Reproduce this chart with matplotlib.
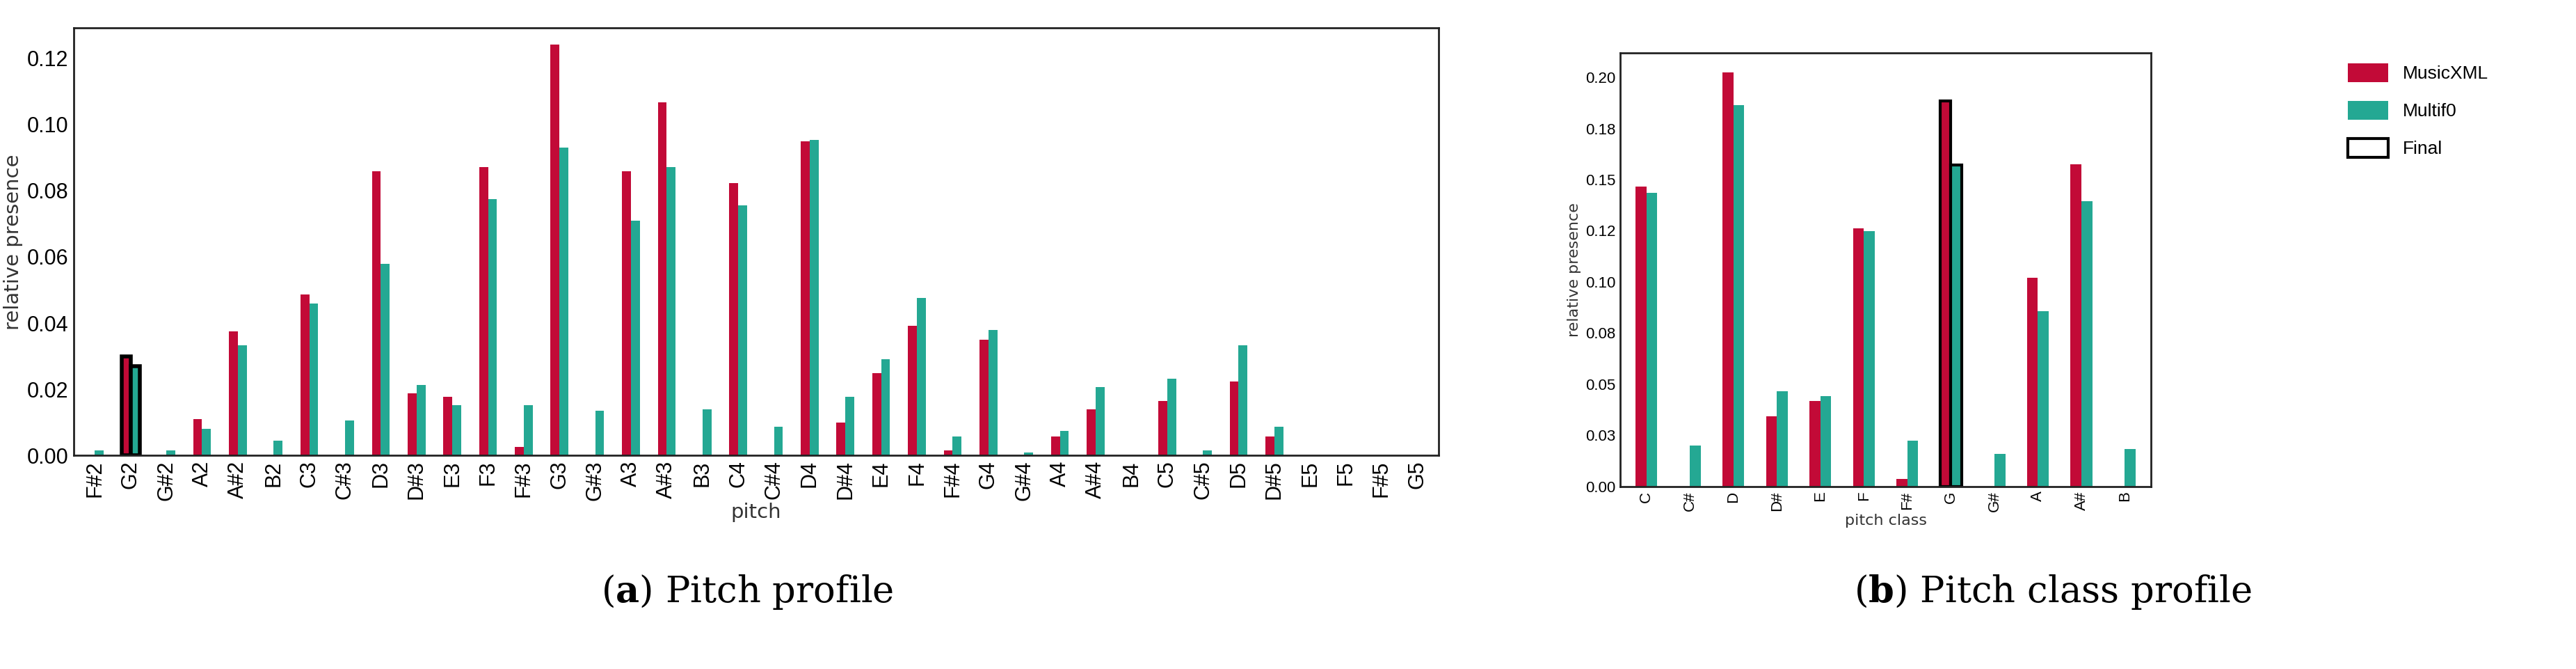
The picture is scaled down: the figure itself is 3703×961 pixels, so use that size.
import matplotlib
matplotlib.use("Agg")
import matplotlib.pyplot as plt
import numpy as np
from matplotlib.patches import Patch

pitches = ["F#2","G2","G#2","A2","A#2","B2","C3","C#3","D3","D#3","E3","F3","F#3","G3","G#3","A3","A#3","B3",
           "C4","C#4","D4","D#4","E4","F4","F#4","G4","G#4","A4","A#4","B4","C5","C#5","D5","D#5","E5","F5","F#5","G5"]
pitch_xml = [0,0.030,0,0.0111,0.0374,0,0.0487,0,0.0858,0.0188,0.0177,0.0870,0.0027,0.1241,0,0.0858,0.1067,0,
             0.0822,0,0.0948,0.0099,0.0249,0.0392,0.0015,0.0350,0,0.0057,0.0140,0,0.0165,0,0.0224,0.0057,0,0,0,0]
pitch_mf0 = [0.0015,0.027,0.0015,0.0081,0.0332,0.0045,0.0458,0.0105,0.0578,0.0213,0.0153,0.0774,0.0153,0.0930,0.0135,0.0708,0.0870,0.0140,
             0.0756,0.0087,0.0953,0.0177,0.0290,0.0476,0.0057,0.0380,0.0009,0.0074,0.0206,0,0.0231,0.0015,0.0332,0.0087,0,0,0,0]
pitch_final = "G2"

classes = ["C","C#","D","D#","E","F","F#","G","G#","A","A#","B"]
class_xml = [0.1466,0,0.2023,0.0342,0.0419,0.1262,0.0036,0.1886,0,0.1021,0.1575,0]
class_mf0 = [0.1434,0.0199,0.1865,0.0464,0.0443,0.1248,0.0223,0.1572,0.016,0.0855,0.1396,0.0184]
class_final = "G"

RED = "#C20A37"
TEAL = "#24A893"
tickfont = ["Liberation Sans Narrow", "Liberation Sans", "DejaVu Sans"]
plt.rcParams["mathtext.fontset"] = "dejavuserif"

fig = plt.figure(figsize=(37.03, 9.61), dpi=100)
ax1 = fig.add_axes([0.0285, 0.319, 0.530, 0.639])
ax2 = fig.add_axes([0.629, 0.273, 0.206, 0.648])

def draw(ax, cats, a, b, final, fs_tick, fs_lab, lw):
    x = np.arange(len(cats))
    w = 0.25
    for i, c in enumerate(cats):
        ec = "black" if c == final else "none"
        l = lw if c == final else 0
        ax.bar(x[i] - w/2, a[i], w, color=RED, edgecolor=ec, linewidth=l)
        ax.bar(x[i] + w/2, b[i], w, color=TEAL, edgecolor=ec, linewidth=l)
    ax.set_xticks(x)
    ax.set_xticklabels(cats, rotation=90, fontsize=fs_tick, family=tickfont)
    ax.set_xlim(-0.6, len(cats) - 0.4)
    ax.tick_params(length=0, pad=5)
    for s in ax.spines.values():
        s.set_linewidth(2); s.set_color("#222222")
    ax.set_ylabel("relative presence", fontsize=fs_lab, color="#333333", labelpad=4)

draw(ax1, pitches, pitch_xml, pitch_mf0, pitch_final, 22, 21, 4)
ax1.set_ylim(0, 0.129)
yt1 = np.arange(0, 0.121, 0.02)
ax1.set_yticks(yt1)
ax1.set_yticklabels([f"{v:.2f}" for v in yt1], fontsize=22, family=tickfont)
ax1.set_xlabel("pitch", fontsize=21, color="#333333", labelpad=2)

draw(ax2, classes, class_xml, class_mf0, class_final, 16, 16, 3)
ax2.set_ylim(0, 0.212)
yt = np.arange(0, 0.201, 0.025)
ax2.set_yticks(yt)
ax2.set_yticklabels([f"{v:.2f}" for v in yt], fontsize=16, family=tickfont)
ax2.set_xlabel("pitch class", fontsize=16, color="#333333", labelpad=2)

handles = [Patch(facecolor=RED, label="MusicXML"), Patch(facecolor=TEAL, label="Multif0"),
           Patch(facecolor="white", edgecolor="black", linewidth=3, label="Final")]
fig.legend(handles=handles, loc="upper left", bbox_to_anchor=(0.905, 0.93), frameon=False,
           prop={"family": tickfont, "size": 19}, handlelength=2.2, handleheight=1.2, labelspacing=1.0)

fig.text(0.29, 0.10, r"($\mathbf{a}$) Pitch profile", ha="center", fontsize=38, family="DejaVu Serif")
fig.text(0.797, 0.10, r"($\mathbf{b}$) Pitch class profile", ha="center", fontsize=38, family="DejaVu Serif")

fig.savefig("out.png", dpi=100)
